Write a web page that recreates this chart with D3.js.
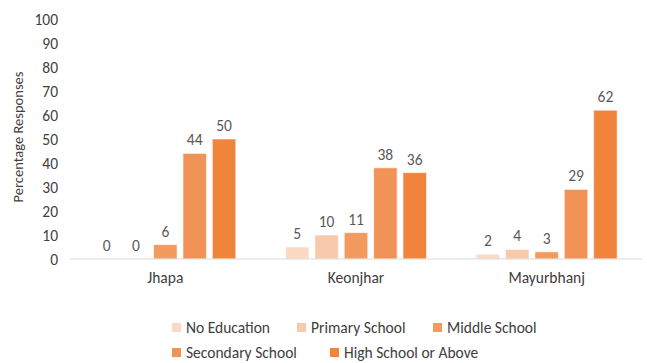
<!DOCTYPE html>
<html>
<head>
<meta charset="utf-8">
<script src="https://cdn.jsdelivr.net/npm/d3@7"></script>
<style>
  body { margin: 0; background: #fff; }
  svg { font-family: Carlito, Lato, "Open Sans", sans-serif; }
</style>
</head>
<body>
<svg id="chart" width="647" height="363"></svg>
<script>
const districts = ["Jhapa", "Keonjhar", "Mayurbhanj"];
const levels = ["No Education", "Primary School", "Middle School", "Secondary School", "High School or Above"];
const noEducation = [0, 5, 2];
const primarySchool = [0, 10, 4];
const middleSchool = [6, 11, 3];
const secondarySchool = [44, 38, 29];
const highSchoolOrAbove = [50, 36, 62];
const yTicks = [0, 10, 20, 30, 40, 50, 60, 70, 80, 90, 100];
const colors = ["#FBDAC5", "#F8CAAB", "#F39A5E", "#F19356", "#F0843B"];

const seriesValues = [noEducation, primarySchool, middleSchool, secondarySchool, highSchoolOrAbove];
const FONT = "Carlito, Lato, 'Open Sans', sans-serif";

const svg = d3.select("#chart");
const plotLeft = 70, plotRight = 642, plotTop = 19, plotBottom = 259;

const x0 = d3.scaleBand().domain(districts).range([plotLeft, plotRight]).paddingInner(0.23).paddingOuter(0.115);
const x1 = d3.scaleBand().domain(levels).range([0, x0.bandwidth()]).paddingInner(0.2).paddingOuter(0.1);
const y = d3.scaleLinear().domain([0, 100]).range([plotBottom, plotTop]);

// y tick labels (no axis line)
const yAxis = d3.axisLeft(y).tickValues(yTicks).tickSize(0).tickPadding(0);
const gy = svg.append("g").attr("transform", `translate(${plotLeft - 12},0)`).call(yAxis);
gy.select(".domain").remove();
gy.selectAll("text").attr("font-size", 15.5).attr("fill", "#404040")
  .attr("font-family", FONT).attr("dy", "0.35em");

// axis title
svg.append("text")
  .attr("transform", `translate(23,${(plotTop + plotBottom) / 2 - 2}) rotate(-90)`)
  .attr("text-anchor", "middle")
  .attr("font-size", 14.5)
  .attr("fill", "#404040")
  .text("Percentage Responses");

// bars
const groups = svg.selectAll("g.grp")
  .data(districts)
  .join("g")
  .attr("class", "grp")
  .attr("transform", d => `translate(${x0(d)},0)`);

groups.each(function(d, i) {
  const g = d3.select(this);
  levels.forEach((lvl, j) => {
    const v = seriesValues[j][i];
    if (v > 0) {
      g.append("rect")
        .attr("x", x1(lvl))
        .attr("y", y(v))
        .attr("width", x1.bandwidth())
        .attr("height", y(0) - y(v))
        .attr("fill", colors[j])
        .attr("stroke", "#fff")
        .attr("stroke-opacity", 0.6)
        .attr("stroke-width", 1);
    }
    g.append("text")
      .attr("x", x1(lvl) + x1.bandwidth() / 2)
      .attr("y", y(v) - 8)
      .attr("text-anchor", "middle")
      .attr("font-size", 15.5)
      .attr("fill", "#595959")
      .text(v);
  });
});

// baseline
svg.append("line")
  .attr("x1", plotLeft).attr("x2", plotRight)
  .attr("y1", y(0)).attr("y2", y(0))
  .attr("stroke", "#d9d9d9").attr("stroke-width", 1);

// category labels
const xAxis = d3.axisBottom(x0).tickSize(0).tickPadding(0);
const gx = svg.append("g").attr("transform", `translate(0,${plotBottom + 19})`).call(xAxis);
gx.select(".domain").remove();
gx.selectAll("text").attr("font-size", 15.5).attr("fill", "#404040")
  .attr("font-family", FONT).attr("dy", "0.35em");

// legend
const legendPos = [[172, 328], [297, 328], [433, 328], [172, 353], [330, 353]];
const legend = svg.append("g");
levels.forEach((lvl, j) => {
  const [lx, ly] = legendPos[j];
  legend.append("rect").attr("x", lx).attr("y", ly - 5).attr("width", 9).attr("height", 9).attr("fill", colors[j]);
  legend.append("text").attr("x", lx + 14).attr("y", ly).attr("dy", "0.35em")
    .attr("font-size", 15.5).attr("fill", "#404040").text(lvl);
});
</script>
</body>
</html>
